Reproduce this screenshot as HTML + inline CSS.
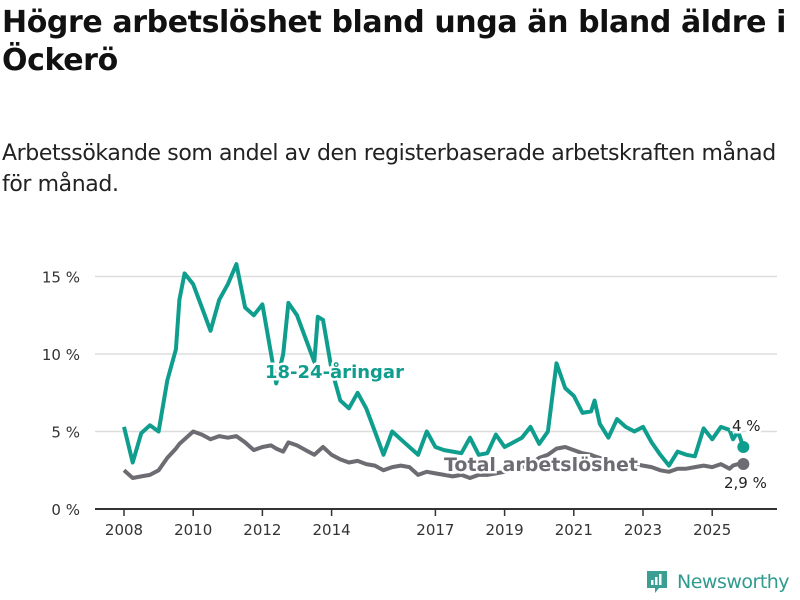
<!DOCTYPE html>
<html><head><meta charset="utf-8"><style>
body{margin:0;width:800px;height:600px;background:#fff;font-family:"Liberation Sans","DejaVu Sans",sans-serif;overflow:hidden;position:relative}
h1{position:absolute;left:2px;top:4px;margin:0;font-size:30px;line-height:38px;font-weight:bold;color:#111;font-family:"DejaVu Sans",sans-serif;letter-spacing:-0.4px}
p{position:absolute;left:2px;top:138px;margin:0;font-size:22px;line-height:31px;color:#222;font-family:"DejaVu Sans",sans-serif;letter-spacing:-0.4px}
svg{position:absolute;left:0;top:0}
</style></head><body>
<h1>Högre arbetslöshet bland unga än bland äldre i<br>Öckerö</h1>
<p>Arbetssökande som andel av den registerbaserade arbetskraften månad<br>för månad.</p>
<svg id="chart" width="800" height="600"></svg>
<div style="position:absolute;left:645px;top:569px;display:flex;align-items:center;color:#2f9b8f;font-size:19px;font-family:'DejaVu Sans',sans-serif;letter-spacing:-0.5px">
<svg width="24" height="26" style="position:static;margin-right:8px"><path d="M2 2h20v17h-8l-4 5v-5H2z" fill="#3a9e93"/><rect x="6" y="11" width="2.5" height="5" fill="#fff"/><rect x="10" y="8" width="2.5" height="8" fill="#fff"/><rect x="14" y="5" width="2.5" height="11" fill="#fff"/></svg>Newsworthy</div>
<script>
const years=[2008,2008.25,2008.5,2008.75,2009,2009.25,2009.5,2009.6,2009.75,2010,2010.25,2010.5,2010.75,2011,2011.25,2011.5,2011.75,2012,2012.25,2012.4,2012.6,2012.75,2013,2013.25,2013.5,2013.6,2013.75,2014,2014.25,2014.5,2014.75,2015,2015.25,2015.5,2015.75,2016,2016.25,2016.5,2016.75,2017,2017.25,2017.5,2017.75,2018,2018.25,2018.5,2018.75,2019,2019.25,2019.5,2019.75,2020,2020.25,2020.5,2020.75,2021,2021.25,2021.5,2021.6,2021.75,2022,2022.25,2022.5,2022.75,2023,2023.25,2023.5,2023.75,2024,2024.25,2024.5,2024.75,2025,2025.25,2025.5,2025.6,2025.75,2025.9];
const young=[5.3,3.0,4.9,5.4,5.0,8.3,10.3,13.5,15.2,14.5,13.0,11.5,13.5,14.5,15.8,13.0,12.5,13.2,10.0,8.1,10.0,13.3,12.5,11.0,9.5,12.4,12.2,9.0,7.0,6.5,7.5,6.5,5.0,3.5,5.0,4.5,4.0,3.5,5.0,4.0,3.8,3.7,3.6,4.6,3.5,3.6,4.8,4.0,4.3,4.6,5.3,4.2,5.0,9.4,7.8,7.3,6.2,6.3,7.0,5.5,4.6,5.8,5.3,5.0,5.3,4.3,3.5,2.8,3.7,3.5,3.4,5.2,4.5,5.3,5.1,4.5,5.0,4.0];
const total=[2.5,2.0,2.1,2.2,2.5,3.3,3.9,4.2,4.5,5.0,4.8,4.5,4.7,4.6,4.7,4.3,3.8,4.0,4.1,3.9,3.7,4.3,4.1,3.8,3.5,3.7,4.0,3.5,3.2,3.0,3.1,2.9,2.8,2.5,2.7,2.8,2.7,2.2,2.4,2.3,2.2,2.1,2.2,2.0,2.2,2.2,2.3,2.4,2.5,2.7,2.9,3.3,3.5,3.9,4.0,3.8,3.6,3.5,3.4,3.3,3.1,3.0,2.9,2.9,2.8,2.7,2.5,2.4,2.6,2.6,2.7,2.8,2.7,2.9,2.6,2.8,2.9,2.9];
const yTicks=[0,5,10,15];
const yTickLabels=["0 %","5 %","10 %","15 %"];
const xTicks=[2008,2010,2012,2014,2017,2019,2021,2023,2025];
const NS="http://www.w3.org/2000/svg";
const svg=document.getElementById('chart');
const X=t=>124+(t-2008)*34.6;
const Y=v=>509-v*15.5;
function mk(tag,attrs,parent){const e=document.createElementNS(NS,tag);for(const k in attrs)e.setAttribute(k,attrs[k]);(parent||svg).appendChild(e);return e;}
yTicks.forEach((v,i)=>{
 const l=mk('line',{x1:95,x2:777,y1:Y(v),y2:Y(v),stroke:v===0?'#333':'#ddd','stroke-width':v===0?2:1.5});
 
 
 const t=mk('text',{x:80,y:Y(v)+6,'text-anchor':'end','font-size':15,fill:'#333','font-family':'DejaVu Sans, sans-serif'});
 t.textContent=yTickLabels[i];
 
 
});
xTicks.forEach(y=>{
 const l=mk('line',{x1:X(y),x2:X(y),y1:509,y2:516,stroke:'#333','stroke-width':1.5});
 
 
 const t=mk('text',{x:X(y),y:535,'text-anchor':'middle','font-size':15,fill:'#333','font-family':'DejaVu Sans, sans-serif'});
 t.textContent=y;
 
 
});
function line(vals,color,name){
 const d=vals.map((v,i)=>(i?'L':'M')+X(years[i]).toFixed(1)+' '+Y(v).toFixed(1)).join(' ');
 const p=mk('path',{d:d,fill:'none',stroke:color,'stroke-width':4,'stroke-linejoin':'round'});
 
 
 const n=vals.length-1;
 const c=mk('circle',{cx:X(years[n]),cy:Y(vals[n]),r:6,fill:color});
 
 
}
line(total,'#6d6c72','total-line');
line(young,'#0f9e8e','youth-line');
function label(txt,x,y,color,size,bold,name,anchor){
 const t=mk('text',{x:x,y:y,fill:color,'font-size':size,'font-weight':bold?'bold':'normal','font-family':'DejaVu Sans, sans-serif',stroke:'#fff','stroke-width':5,'paint-order':'stroke','text-anchor':anchor||'start'});
 t.textContent=txt;
 
 
}
label('18-24-åringar',265,378,'#0f9e8e',18,true,'youth-series-label');
label('Total arbetslöshet',444,471,'#6d6c72',19,true,'total-series-label');
label('4 %',732,431,'#222',15,false,'youth-end-value');
label('2,9 %',724,488,'#222',15,false,'total-end-value');
</script>
</body></html>
